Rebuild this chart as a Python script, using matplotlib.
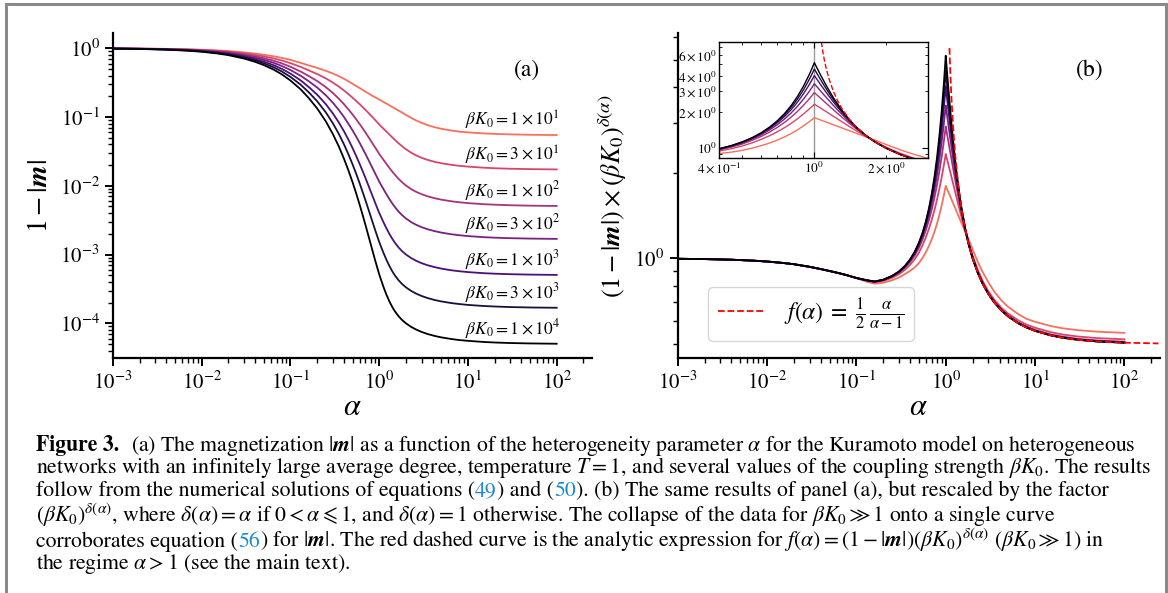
import numpy as np
import matplotlib
matplotlib.use("Agg")
import matplotlib.pyplot as plt
from matplotlib import ticker
from matplotlib.lines import Line2D

plt.rcParams['font.family'] = 'serif'
plt.rcParams['font.serif'] = ['STIXGeneral', 'Liberation Serif', 'DejaVu Serif']
plt.rcParams['mathtext.fontset'] = 'stix'

bk0 = [1e1, 3e1, 1e2, 3e2, 1e3, 3e3, 1e4]
bk0_labels = [r'$\beta K_0 = 1\times10^{1}$', r'$\beta K_0 = 3\times10^{1}$',
              r'$\beta K_0 = 1\times10^{2}$', r'$\beta K_0 = 3\times10^{2}$',
              r'$\beta K_0 = 1\times10^{3}$', r'$\beta K_0 = 3\times10^{3}$',
              r'$\beta K_0 = 1\times10^{4}$']

# small alpha: all curves of panel (b) lie on top of each other
alpha_low = [0.001, 0.002, 0.004, 0.007, 0.01, 0.015, 0.02, 0.03, 0.04, 0.05, 0.065, 0.08, 0.1]
scaled_low = [0.997, 0.9945, 0.9895, 0.982, 0.975, 0.964, 0.954, 0.934, 0.917, 0.903, 0.886, 0.871, 0.853]

alpha_high = [0.13, 0.16, 0.2, 0.25, 0.3, 0.35, 0.4, 0.45, 0.5, 0.55, 0.6, 0.65, 0.7, 0.75, 0.8,
              0.85, 0.9, 0.95, 0.98, 1.0, 1.02, 1.05, 1.1, 1.15, 1.2, 1.3, 1.4, 1.5, 1.65, 1.8,
              2.0, 2.3, 2.6, 3.0, 3.5, 4.2, 5.0, 6.5, 8.0, 10.0, 15.0, 20.0, 30.0, 50.0, 100.0]

# (1-|m|) * (bK0)^delta(alpha), one list per bK0
scaled_1e1 = [0.828, 0.815, 0.821, 0.837, 0.857, 0.881, 0.905, 0.930, 0.963, 1.004, 1.053, 1.108, 1.172,
              1.245, 1.328, 1.425, 1.537, 1.662, 1.744, 1.80,
              1.774, 1.736, 1.677, 1.623, 1.573, 1.482, 1.403, 1.333, 1.243, 1.168, 1.075, 0.968, 0.893,
              0.824, 0.763, 0.711, 0.675, 0.636, 0.613, 0.598, 0.578, 0.568, 0.559, 0.552, 0.547]
scaled_3e1 = [0.834, 0.824, 0.833, 0.854, 0.880, 0.912, 0.950, 0.994, 1.047, 1.113, 1.189, 1.275, 1.374,
              1.486, 1.615, 1.763, 1.931, 2.120, 2.241, 2.331,
              2.273, 2.195, 2.070, 1.955, 1.852, 1.672, 1.522, 1.398, 1.249, 1.135, 1.021, 0.906, 0.831,
              0.766, 0.715, 0.670, 0.639, 0.605, 0.585, 0.570, 0.550, 0.540, 0.531, 0.524, 0.519]
scaled_1e2 = [0.836, 0.827, 0.838, 0.861, 0.891, 0.928, 0.972, 1.025, 1.088, 1.167, 1.259, 1.367, 1.494,
              1.644, 1.821, 2.030, 2.276, 2.569, 2.768, 2.913,
              2.811, 2.668, 2.453, 2.265, 2.100, 1.827, 1.616, 1.450, 1.265, 1.133, 1.009, 0.892, 0.818,
              0.755, 0.704, 0.660, 0.629, 0.595, 0.576, 0.560, 0.540, 0.531, 0.521, 0.514, 0.509]
scaled_3e2 = [0.837, 0.828, 0.840, 0.864, 0.895, 0.935, 0.982, 1.039, 1.109, 1.196, 1.299, 1.423, 1.573,
              1.753, 1.972, 2.239, 2.564, 2.963, 3.243, 3.452,
              3.297, 3.084, 2.773, 2.508, 2.284, 1.929, 1.669, 1.476, 1.270, 1.130, 1.004, 0.887, 0.814,
              0.751, 0.701, 0.658, 0.626, 0.592, 0.573, 0.557, 0.537, 0.528, 0.519, 0.512, 0.507]
scaled_1e3 = [0.838, 0.829, 0.841, 0.866, 0.898, 0.938, 0.988, 1.048, 1.122, 1.214, 1.326, 1.463, 1.632,
              1.840, 2.100, 2.427, 2.840, 3.366, 3.748, 4.039,
              3.814, 3.511, 3.080, 2.729, 2.441, 2.006, 1.704, 1.490, 1.272, 1.128, 1.002, 0.886, 0.813,
              0.750, 0.700, 0.657, 0.625, 0.591, 0.572, 0.556, 0.536, 0.527, 0.518, 0.511, 0.506]
scaled_3e3 = [0.838, 0.829, 0.841, 0.866, 0.899, 0.940, 0.991, 1.052, 1.129, 1.224, 1.341, 1.487, 1.670,
              1.900, 2.193, 2.573, 3.066, 3.716, 4.204, 4.578,
              4.280, 3.882, 3.333, 2.900, 2.555, 2.055, 1.723, 1.496, 1.271, 1.127, 1.001, 0.885, 0.813,
              0.750, 0.700, 0.656, 0.625, 0.591, 0.572, 0.556, 0.536, 0.527, 0.517, 0.510, 0.505]
scaled_1e4 = [0.838, 0.829, 0.841, 0.867, 0.899, 0.941, 0.992, 1.055, 1.133, 1.229, 1.351, 1.504, 1.698,
              1.948, 2.274, 2.707, 3.288, 4.079, 4.689, 5.17,
              4.777, 4.265, 3.581, 3.058, 2.654, 2.092, 1.736, 1.499, 1.271, 1.125, 1.000, 0.885, 0.813,
              0.750, 0.700, 0.656, 0.625, 0.591, 0.571, 0.556, 0.536, 0.526, 0.517, 0.510, 0.505]
scaled = [scaled_1e1, scaled_3e1, scaled_1e2, scaled_3e2, scaled_1e3, scaled_3e3, scaled_1e4]

# red dashed curve f(alpha)
alpha_f = [1.06, 1.08, 1.1, 1.12, 1.15, 1.2, 1.25, 1.3, 1.4, 1.5, 1.65, 1.8, 2.0, 2.3, 2.6, 3.0, 3.5,
           4.2, 5.0, 6.5, 8.0, 10.0, 15.0, 20.0, 30.0, 50.0, 100.0, 240.0]
f_vals = [8.83, 6.75, 5.5, 4.667, 3.833, 3.0, 2.5, 2.167, 1.75, 1.5, 1.269, 1.125, 1.0, 0.885, 0.8125,
          0.75, 0.70, 0.656, 0.625, 0.591, 0.571, 0.556, 0.536, 0.526, 0.517, 0.510, 0.505, 0.502]

colors = plt.cm.magma(np.linspace(0.7, 0.0, len(bk0)))

W, H = 1168, 593
fig = plt.figure(figsize=(W / 100, H / 100), dpi=100)

ax_a = fig.add_axes([113 / W, 1 - 358.3 / H, 479 / W, 325 / H])
ax_b = fig.add_axes([677.7 / W, 1 - 358.3 / H, 482.3 / W, 325 / H])
ax_in = fig.add_axes([719.3 / W, 1 - 158.3 / H, 209 / W, 116 / H])

alpha = alpha_low + alpha_high
a = np.array(alpha)
delta = np.where(a <= 1, a, 1.0)
i10 = alpha.index(10.0)

for k, s, c, lbl in zip(bk0, scaled, colors, bk0_labels):
    s = np.array(scaled_low + s)
    # panel (a): undo the rescaling by (bK0)^delta
    one_minus_m = s / k ** delta
    ax_a.plot(a, one_minus_m, color=c, lw=1.3)
    ax_a.annotate(lbl, xy=(9.2, one_minus_m[i10]), xytext=(0, 0), textcoords='offset points',
                  fontsize=12.5, va='bottom', ha='left')
    ax_b.plot(a, s, color=c, lw=1.3)
    ax_in.plot(a, s, color=c, lw=1.0)

af = np.array(alpha_f)
fv = np.array(f_vals)
main_f = af >= 1.1
ax_b.plot(af[main_f], fv[main_f], color='red', ls='--', lw=1.3,
          label=r'$f(\alpha)\;=\;\frac{1}{2}\,\frac{\alpha}{\alpha-1}$')
ax_in.plot(af, fv, color='red', ls='--', lw=1.0)
ax_in.axvline(1.0, color='#9a9a9a', lw=1.0, zorder=0)

for ax in (ax_a, ax_b):
    ax.set_xscale('log')
    ax.set_yscale('log')
    ax.set_xlim(1e-3, 2.5e2)
    for side in ('top', 'right'):
        ax.spines[side].set_visible(False)
    for side in ('left', 'bottom'):
        ax.spines[side].set_linewidth(1.6)
    ax.xaxis.set_major_locator(ticker.LogLocator(base=10, numticks=12))
    ax.xaxis.set_minor_locator(ticker.LogLocator(base=10, subs=np.arange(2, 10), numticks=12))
    ax.yaxis.set_minor_locator(ticker.LogLocator(base=10, subs=np.arange(2, 10), numticks=12))
    ax.yaxis.set_minor_formatter(ticker.NullFormatter())
    ax.tick_params(which='major', direction='out', length=6, width=1.4, labelsize=15)
    ax.tick_params(which='minor', direction='out', length=3.5, width=1.0)
    ax.set_xlabel(r'$\alpha$', fontsize=22, labelpad=0)

ax_a.set_ylim(3.1e-5, 1.65)
ax_b.set_ylim(0.445, 6.2)
ax_a.set_ylabel(r'$1-|\boldsymbol{m}|$', fontsize=20, labelpad=5)
ax_b.set_ylabel(r'$(1-|\boldsymbol{m}|)\times(\beta K_0)^{\delta(\alpha)}$', fontsize=19, labelpad=4)

ax_a.text(0.864, 0.887, '(a)', transform=ax_a.transAxes, ha='center', va='center', fontsize=17)
ax_b.text(0.855, 0.887, '(b)', transform=ax_b.transAxes, ha='center', va='center', fontsize=17)

ax_b.legend(loc='lower left', bbox_to_anchor=(0.063, 0.053), borderaxespad=0, fontsize=17,
            handlelength=2.0)

# inset
ax_in.set_xscale('log')
ax_in.set_yscale('log')
ax_in.set_xlim(0.4, 3.0)
ax_in.set_ylim(0.826, 7.64)


def inset_x_label(v, pos):
    if abs(v - 0.4) < 1e-6:
        return r'$4\times10^{-1}$'
    if abs(v - 2.0) < 1e-6:
        return r'$2\times10^{0}$'
    return ''


def inset_y_label(v, pos):
    for n in (2, 3, 4, 6):
        if abs(v - n) < 1e-6:
            return r'$%d\times10^{0}$' % n
    return ''


ax_in.xaxis.set_minor_locator(ticker.LogLocator(base=10, subs=np.arange(2, 10), numticks=12))
ax_in.yaxis.set_minor_locator(ticker.LogLocator(base=10, subs=np.arange(2, 10), numticks=12))
ax_in.xaxis.set_minor_formatter(ticker.FuncFormatter(inset_x_label))
ax_in.yaxis.set_minor_formatter(ticker.FuncFormatter(inset_y_label))
ax_in.tick_params(which='both', direction='in', top=True, right=True, labelsize=9.5, pad=2)
ax_in.tick_params(which='major', length=4, width=0.8)
ax_in.tick_params(which='minor', length=2.2, width=0.6)
for sp in ax_in.spines.values():
    sp.set_linewidth(1.0)

# page frame
frame = dict(color='#8a8a8a', lw=2.2, transform=fig.transFigure)
fig.add_artist(Line2D([6 / W, 6 / W], [0, 1 - 4 / H], **frame))
fig.add_artist(Line2D([6 / W, 1166 / W], [1 - 4 / H, 1 - 4 / H], **frame))
fig.add_artist(Line2D([1166 / W, 1166 / W], [0, 1 - 4 / H], **frame))

# caption: (baseline y, right end of the line in the figure, segments)
blue = '#1f8ad2'
cap = [
    (450.7, 1113, [('Figure 3.', 'black', 'bold', 12),
                   (r'(a) The magnetization $|\boldsymbol{m}|$ as a function of the heterogeneity parameter '
                    r'$\alpha$ for the Kuramoto model on heterogeneous', 'black', 'normal', 0)]),
    (473.3, 1122, [(r'networks with an infinitely large average degree, temperature $T=1$, and several values '
                    r'of the coupling strength $\beta K_0$. The results', 'black', 'normal', 0)]),
    (496.0, 1110, [('follow from the numerical solutions of equations (', 'black', 'normal', 0),
                   ('49', blue, 'normal', 0), (') and (', 'black', 'normal', 0), ('50', blue, 'normal', 0),
                   ('). (b) The same results of panel (a), but rescaled by the factor', 'black', 'normal', 0)]),
    (521.7, 1105, [(r'$(\beta K_0)^{\delta(\alpha)}$, where $\delta(\alpha)=\alpha$ if $0<\alpha\leqslant 1$, '
                    r'and $\delta(\alpha)=1$ otherwise. The collapse of the data for $\beta K_0\gg 1$ onto a '
                    r'single curve', 'black', 'normal', 0)]),
    (546.7, 1113, [('corroborates equation (', 'black', 'normal', 0), ('56', blue, 'normal', 0),
                   (r') for $|\boldsymbol{m}|$. The red dashed curve is the analytic expression for '
                    r'$f(\alpha)=(1-|\boldsymbol{m}|)(\beta K_0)^{\delta(\alpha)}$ $(\beta K_0\gg 1)$ in',
                    'black', 'normal', 0)]),
    (569.3, None, [(r'the regime $\alpha>1$ (see the main text).', 'black', 'normal', 0)]),
]

renderer = fig.canvas.get_renderer()


def caption_line(segs, y0, size, x0=36):
    x = x0
    made = []
    for s, color, weight, gap in segs:
        t = fig.text(x / W, 1 - y0 / H, s, fontsize=size, color=color, fontweight=weight,
                     va='baseline', ha='left')
        made.append(t)
        x += t.get_window_extent(renderer).width + gap
    return x, made


# one size for the whole caption, fitted on average to where the lines end in the figure
sizes = []
for y0, right, segs in cap:
    if right is None:
        continue
    end, tmp = caption_line(segs, y0, 14)
    for t in tmp:
        t.remove()
    sizes.append(14 * (right - 36) / (end - 36))
size = min(np.mean(sizes), min(sizes) * 1.03)
for y0, right, segs in cap:
    caption_line(segs, y0, size)

fig.savefig('out.png', dpi=100)
